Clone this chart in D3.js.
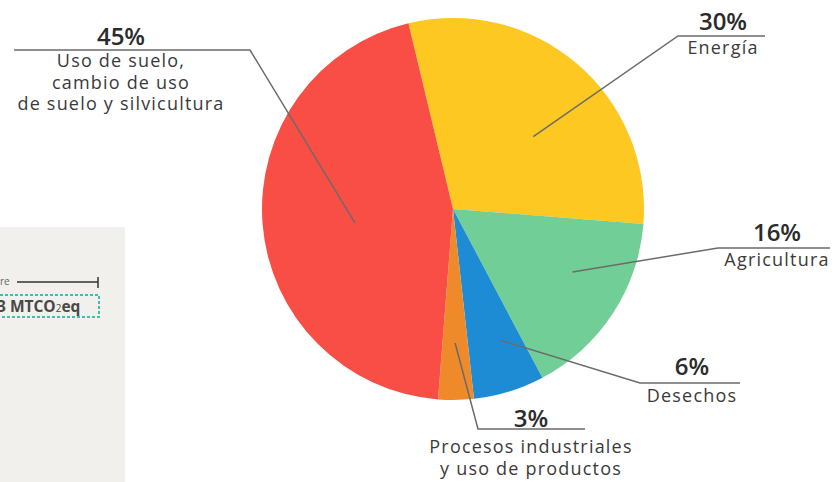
<!DOCTYPE html>
<html>
<head>
<meta charset="utf-8">
<script src="https://cdn.jsdelivr.net/npm/d3@7"></script>
<style>
  body { margin: 0; background: #fff; }
  svg { display: block; }
</style>
</head>
<body>
<div class="canvas"></div>
<script>
// data
const sectors = ['Energía', 'Agricultura', 'Desechos', 'Procesos industriales', 'Uso de suelo'];
const shares = [30, 16, 6, 3, 45];
const colors = ['#fdc821', '#72ce97', '#1e8cd4', '#ef8a2b', '#f94e45'];
const pctLabels = ['30%', '16%', '6%', '3%', '45%'];
const nameLines = [
    ['Energía'],
    ['Agricultura'],
    ['Desechos'],
    ['Procesos industriales', 'y uso de productos'],
    ['Uso de suelo,', 'cambio de uso', 'de suelo y silvicultura']
];

const width = 836;
const height = 482;
const cx = 453, cy = 209, radius = 191;

const svg = d3.select('.canvas')
    .append('svg')
    .attr('width', width)
    .attr('height', height);

// grey panel peeking in from the left (cut off in the original)
const panel = svg.append('g');
panel.append('rect')
    .attr('x', 0).attr('y', 227)
    .attr('width', 125).attr('height', height - 227)
    .attr('fill', '#f1f0ec');
panel.append('text')
    .attr('x', 0).attr('y', 285)
    .attr('font-family', 'Open Sans, sans-serif')
    .attr('font-size', 10)
    .attr('fill', '#666')
    .text('re');
panel.append('line')
    .attr('x1', 17).attr('x2', 98).attr('y1', 282).attr('y2', 282)
    .attr('stroke', '#333').attr('stroke-width', 1.5);
panel.append('line')
    .attr('x1', 98).attr('x2', 98).attr('y1', 277).attr('y2', 288)
    .attr('stroke', '#333').attr('stroke-width', 1.5);
panel.append('rect')
    .attr('x', -10).attr('y', 295)
    .attr('width', 109).attr('height', 22)
    .attr('fill', 'none')
    .attr('stroke', '#3dbfae')
    .attr('stroke-width', 2)
    .attr('stroke-dasharray', '3,2');
const mt = panel.append('text')
    .attr('x', -3).attr('y', 312)
    .attr('font-family', 'Open Sans, sans-serif')
    .attr('font-weight', 'bold')
    .attr('font-size', 15.5)
    .attr('fill', '#484848');
mt.append('tspan').text('3 MTCO');
mt.append('tspan').attr('font-size', 10).attr('font-weight', 'normal').text('2');
mt.append('tspan').text('eq');

// pie
const pie = d3.pie()
    .sort(null)
    .value(d => d)
    .startAngle(-13.5 * Math.PI / 180)
    .endAngle((360 - 13.5) * Math.PI / 180);

const arc = d3.arc().innerRadius(0).outerRadius(radius);
const arcs = pie(shares);

const graph = svg.append('g')
    .attr('transform', `translate(${cx}, ${cy})`);

graph.selectAll('path')
    .data(arcs)
    .enter()
    .append('path')
    .attr('d', arc)
    .attr('fill', (d, i) => colors[i]);

// callouts: where the leader starts inside the slice (angle nudge in deg, radius),
// the elbow, how far the underline runs, and the text centre
const callouts = [
    { nudge: 7.5, r: 108, knee: [678, 36], end: 765, tx: 723, ty: 30, gap: 24 },
    { nudge: -5.5, r: 135, knee: [718, 248], end: 830, tx: 777, ty: 241, gap: 25 },
    { nudge: -3, r: 140, knee: [640, 383], end: 740, tx: 692, ty: 375, gap: 27 },
    { nudge: 0, r: 134, knee: [478, 429], end: 585, tx: 531, ty: 427, gap: 26 },
    { nudge: -3.5, r: 99, knee: [250, 50], end: 14, tx: 121, ty: 45, gap: 22 }
];

const labels = svg.append('g')
    .attr('font-family', 'Open Sans, sans-serif')
    .attr('fill', '#333');

arcs.forEach((d, i) => {
    const c = callouts[i];
    const a = (d.startAngle + d.endAngle) / 2 + c.nudge * Math.PI / 180;
    const px = cx + c.r * Math.sin(a);
    const py = cy - c.r * Math.cos(a);

    labels.append('path')
        .attr('d', d3.line()([[px, py], c.knee, [c.end, c.knee[1]]]))
        .attr('fill', 'none')
        .attr('stroke', '#6b6b6b')
        .attr('stroke-width', 1.5);

    labels.append('text')
        .attr('x', c.tx).attr('y', c.ty)
        .attr('text-anchor', 'middle')
        .attr('font-size', 24)
        .attr('font-weight', 600)
        .attr('fill', '#2b2b2b')
        .text(pctLabels[i]);

    nameLines[i].forEach((line, j) => {
        labels.append('text')
            .attr('x', c.tx)
            .attr('y', c.ty + c.gap + j * 21.5)
            .attr('text-anchor', 'middle')
            .attr('font-size', 18)
            .attr('letter-spacing', 1.2)
            .attr('fill', '#3a3a3a')
            .text(line);
    });
});
</script>
</body>
</html>
